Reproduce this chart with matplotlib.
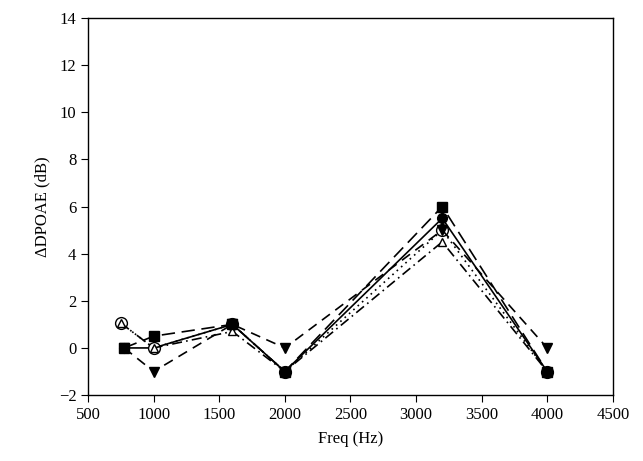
import matplotlib
matplotlib.use("Agg")
import matplotlib.pyplot as plt

plt.rcParams['font.family'] = ['Liberation Serif', 'DejaVu Serif']

freq_a = [750, 1000, 1600, 2000, 3200, 4000]
freq_b = [775, 1000, 1600, 2000, 3200, 4000]

filled_circle = [0, 0, 1.0, -1.0, 5.5, -1.0]
open_circle = [1.05, 0, 1.0, -1.0, 5.0, -1.0]
filled_tri_down = [0, -1.0, 1.0, 0, 5.0, 0]
open_tri_up = [1.05, 0, 0.7, -1.0, 4.5, -1.0]
filled_square = [0, 0.5, 1.0, -1.0, 6.0, -1.0]

xticks = [500, 1000, 1500, 2000, 2500, 3000, 3500, 4000, 4500]
yticks = [-2, 0, 2, 4, 6, 8, 10, 12, 14]

fig = plt.figure(figsize=(6.43, 4.61), dpi=100)
ax = fig.add_axes([0.137, 0.143, 0.816, 0.818])

lw = 1.2
ax.plot(freq_b, filled_circle, linestyle='-', color='black', lw=lw,
        marker='o', markersize=7, markerfacecolor='black', markeredgecolor='black', zorder=4)
ax.plot(freq_a, open_circle, linestyle=(0, (1, 2.5)), color='black', lw=lw,
        marker='o', markersize=8.5, markerfacecolor='white', markeredgecolor='black', zorder=5)
ax.plot(freq_a, open_tri_up, linestyle=(0, (6, 2.5, 1, 2.5)), color='black', lw=lw,
        marker='^', markersize=6, markerfacecolor='white', markeredgecolor='black', zorder=6)
ax.plot(freq_b, filled_tri_down, linestyle=(0, (6, 4)), color='black', lw=lw,
        marker='v', markersize=6.5, markerfacecolor='black', markeredgecolor='black', zorder=7)
ax.plot(freq_b, filled_square, linestyle=(0, (8, 4)), color='black', lw=lw,
        marker='s', markersize=6.5, markerfacecolor='black', markeredgecolor='black', zorder=8)

ax.set_xlim(500, 4500)
ax.set_ylim(-2, 14)
ax.set_xticks(xticks)
ax.set_yticks(yticks)
ax.set_yticklabels([str(v).replace('-', '\u2212') for v in yticks])
ax.tick_params(direction='out', length=5, labelsize=12, top=False, right=False)
for s in ax.spines.values():
    s.set_linewidth(1.0)
ax.set_xlabel('Freq (Hz)', fontsize=12, labelpad=6)
ax.set_ylabel('\u0394DPOAE (dB)', fontsize=12, labelpad=6)

fig.savefig('out.png', dpi=100)
